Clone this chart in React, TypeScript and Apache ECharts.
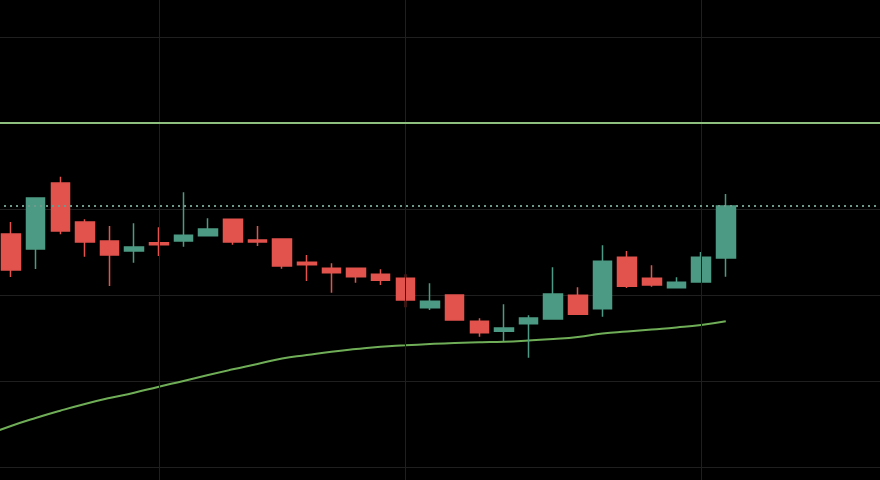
import React, { useEffect, useRef } from 'react';
import * as echarts from 'echarts';

// 37 category slots: one off-screen slot on the left, 30 candles, 6 empty slots on the right
const categories = [
  '05-02', '05-03', '05-04', '05-05', '05-08', '05-09', '05-10', '05-11', '05-12', '05-15',
  '05-16', '05-17', '05-18', '05-19', '05-22', '05-23', '05-24', '05-25', '05-26', '05-29',
  '05-30', '05-31', '06-01', '06-02', '06-05', '06-06', '06-07', '06-08', '06-09', '06-12',
  '06-13', '06-14', '06-15', '06-16', '06-19', '06-20', '06-21',
];
const candleStart = 1; // index of the first candle in categories

const opens = [
  12.709, 12.535, 13.302, 12.849, 12.628, 12.512, 12.608, 12.628, 12.690, 12.880,
  12.640, 12.651, 12.380, 12.310, 12.310, 12.241, 12.194, 11.852, 12.000, 11.694,
  11.578, 11.666, 11.721, 11.997, 11.841, 12.438, 12.194, 12.085, 12.151, 12.430,
];
const closes = [
  12.291, 13.128, 12.744, 12.616, 12.465, 12.558, 12.585, 12.694, 12.767, 12.616,
  12.616, 12.337, 12.352, 12.259, 12.213, 12.171, 11.942, 11.927, 11.709, 11.562,
  11.616, 11.733, 12.012, 11.776, 12.392, 12.101, 12.116, 12.148, 12.438, 13.035,
];
const lows = [
  12.209, 12.302, 12.706, 12.445, 12.105, 12.376, 12.453, 12.562, 12.690, 12.585,
  12.570, 12.306, 12.163, 12.027, 12.143, 12.116, 11.857, 11.826, 11.701, 11.515,
  11.465, 11.271, 11.721, 11.767, 11.748, 12.081, 12.097, 12.085, 12.151, 12.213,
];
const highs = [
  12.849, 13.128, 13.376, 12.880, 12.802, 12.834, 12.787, 13.194, 12.892, 12.880,
  12.802, 12.651, 12.465, 12.369, 12.310, 12.299, 12.241, 12.136, 12.000, 11.729,
  11.892, 11.764, 12.322, 12.090, 12.578, 12.512, 12.345, 12.206, 12.500, 13.174,
];
// moving average, starting at the off-screen slot (index 0)
const movingAverage = [
  10.372, 10.477, 10.570, 10.655, 10.733, 10.802, 10.864, 10.934, 11.000, 11.070,
  11.136, 11.198, 11.262, 11.302, 11.341, 11.372, 11.399, 11.415, 11.430, 11.442,
  11.450, 11.457, 11.471, 11.488, 11.512, 11.552, 11.576, 11.599, 11.622, 11.651,
  11.694,
];
const verticalGridDates = ['05-11', '05-25', '06-12'];
const resistanceLevel = 14;
const lastPrice = 13.035;

export default function App() {
  const ref = useRef<HTMLDivElement>(null);

  useEffect(() => {
    if (!ref.current) return;
    document.body.style.margin = '0';
    document.body.style.overflow = 'hidden';
    document.body.style.background = '#000';
    const chart = echarts.init(ref.current, null, { renderer: 'svg' });

    const candleData = categories.map((_, i) => {
      const k = i - candleStart;
      if (k < 0 || k >= opens.length) return '-';
      return [opens[k], closes[k], lows[k], highs[k]];
    });
    const maData = categories.map((_, i) => (i < movingAverage.length ? movingAverage[i] : '-'));

    chart.setOption({
      animation: false,
      backgroundColor: '#000000',
      grid: { left: 0, right: 0, top: 0, bottom: 0, containLabel: false },
      xAxis: {
        type: 'category',
        data: categories,
        boundaryGap: true,
        axisLine: { show: false },
        axisTick: { show: false },
        axisLabel: { show: false },
        splitLine: { show: false },
      },
      yAxis: {
        type: 'value',
        min: 9,
        max: 16,
        interval: 1,
        axisLine: { show: false },
        axisTick: { show: false },
        axisLabel: { show: false },
        splitLine: { show: true, lineStyle: { color: '#1f1f1f', width: 1 } },
      },
      series: [
        {
          name: 'grid',
          type: 'line',
          data: categories.map(() => '-'),
          z: 0,
          silent: true,
          markLine: {
            silent: true,
            symbol: ['none', 'none'],
            label: { show: false },
            lineStyle: { color: '#1f1f1f', width: 1, type: 'solid' },
            data: verticalGridDates.map((d) => ({ xAxis: d })),
          },
        },
        {
          name: 'levels',
          type: 'line',
          data: categories.map(() => '-'),
          z: 1,
          silent: true,
          markLine: {
            silent: true,
            symbol: ['none', 'none'],
            label: { show: false },
            data: [
              { yAxis: resistanceLevel, lineStyle: { color: '#8fbf7f', width: 2, type: 'solid' } },
              { yAxis: lastPrice, lineStyle: { color: '#6f9a8b', width: 2, type: [2, 4] } },
            ],
          },
        },
        {
          name: 'price',
          type: 'candlestick',
          data: candleData,
          barWidth: 19,
          z: 3,
          itemStyle: {
            color: '#4c9a83',
            color0: '#e2534d',
            borderColor: '#4c9a83',
            borderColor0: '#e2534d',
            borderWidth: 1.5,
          },
        },
        {
          name: 'MA',
          type: 'line',
          data: maData,
          smooth: true,
          symbol: 'none',
          z: 2,
          lineStyle: { color: '#6fae57', width: 2 },
        },
      ],
    });

    return () => chart.dispose();
  }, []);

  // The chart's plot area is larger than the window: its grid starts above and left of it,
  // so the visible part shows the same slice of the price scale as the reference.
  return (
    <div
      ref={ref}
      style={{ position: 'fixed', left: -25.66, top: -49, width: 912.42, height: 602 }}
    />
  );
}
